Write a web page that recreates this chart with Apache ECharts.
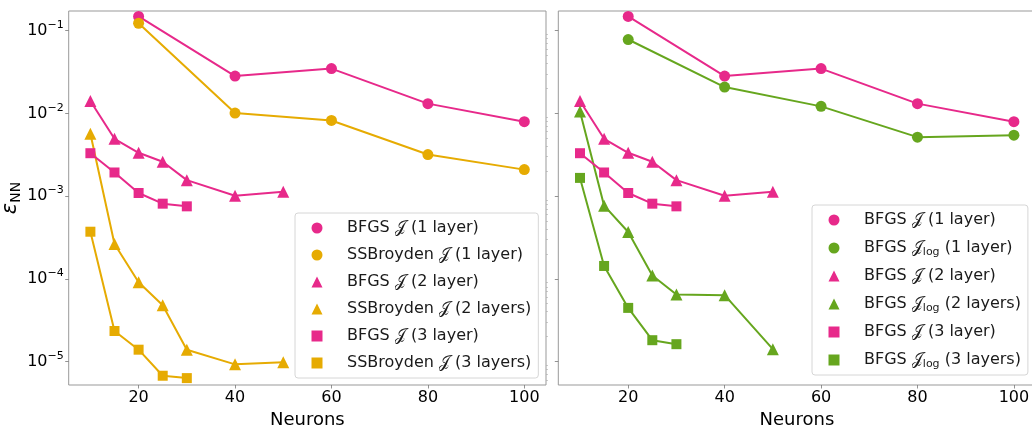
<!DOCTYPE html>
<html>
<head>
<meta charset="utf-8">
<script src="https://cdn.jsdelivr.net/npm/echarts@6/dist/echarts.min.js"></script>
<style>
  html, body { margin: 0; padding: 0; background: #fff; }
  #chart { width: 1032px; height: 425px; }
</style>
</head>
<body>
<div id="chart"></div>
<script>
// neurons per layer (x values)
const neurons1 = [20, 40, 60, 80, 100];
const neurons2 = [10, 15, 20, 25, 30, 40, 50];
const neurons3 = [10, 15, 20, 25, 30];

// errors
const bfgs1 = [0.1486, 0.0283, 0.0348, 0.01312, 0.00793];
const ssb1 = [0.123, 0.0101, 0.00822, 0.00318, 0.00209];
const bfgs2 = [0.0141, 0.00493, 0.00334, 0.0026, 0.00156, 0.00101, 0.00113];
const ssb2 = [0.00568, 0.000264, 9.1e-5, 4.8e-5, 1.39e-5, 9.24e-6, 9.78e-6];
const bfgs3 = [0.0033, 0.00193, 0.00109, 0.00081, 0.000752];
const ssb3 = [0.000371, 2.34e-5, 1.39e-5, 6.73e-6, 6.3e-6];
const bfgsLog1 = [0.0782, 0.0208, 0.01216, 0.00516, 0.00546];
const bfgsLog2 = [0.01057, 0.000767, 0.000368, 0.0001097, 6.45e-5, 6.34e-5, 1.41e-5];
const bfgsLog3 = [0.00166, 0.000143, 4.45e-5, 1.81e-5, 1.62e-5];

// tick labels
const xTicks = [20, 40, 60, 80, 100];
const yTicks = [1e-5, 1e-4, 1e-3, 1e-2, 1e-1];
const yTickExp = ['−5', '−4', '−3', '−2', '−1'];

const PINK = '#e7298a', ORANGE = '#e6ab02', GREEN = '#66a61e';
const FONT = 'DejaVu Sans';
const Y_MIN = 5.2e-6, Y_MAX = 0.173;

// minor ticks 2..9 x 10^k
const yMinor = [];
for (let k = -6; k <= -1; k++) {
  for (let m = 2; m <= 9; m++) {
    const v = m * Math.pow(10, k);
    if (v > Y_MIN && v < Y_MAX) yMinor.push(v);
  }
}

const chart = echarts.init(document.getElementById('chart'), null, { renderer: 'canvas' });

function pairs(xs, ys) { return xs.map((x, i) => [x, ys[i]]); }

function mkSeries(name, xs, ys, color, symbol, size, panel) {
  return {
    name: name,
    type: 'line',
    xAxisIndex: panel,
    yAxisIndex: panel * 2,
    data: pairs(xs, ys),
    symbol: symbol,
    symbolSize: size,
    showAllSymbol: true,
    lineStyle: { color: color, width: 2 },
    itemStyle: { color: color, borderWidth: 0 },
    emphasis: { disabled: true }
  };
}

function xAxisCfg(grid) {
  return {
    type: 'value', gridIndex: grid, min: 5.5, max: 104.5,
    name: 'Neurons', nameLocation: 'middle', nameGap: 16,
    nameTextStyle: { fontFamily: FONT, fontSize: 18, color: '#000' },
    axisLine: { show: false },
    splitLine: { show: false },
    axisTick: { show: true, customValues: xTicks, length: 3.5, lineStyle: { color: '#777', width: 0.8 } },
    axisLabel: { customValues: xTicks, margin: 5, fontFamily: FONT, fontSize: 16, color: '#000' }
  };
}

function yAxisMajor(grid, withLabels) {
  return {
    type: 'log', gridIndex: grid, min: Y_MIN, max: Y_MAX, logBase: 10,
    axisLine: { show: false },
    splitLine: { show: false },
    axisTick: { show: true, customValues: yTicks, length: 3.5, lineStyle: { color: '#777', width: 0.8 } },
    axisLabel: {
      show: withLabels,
      customValues: yTicks,
      margin: 5,
      formatter: function (v) {
        const i = yTicks.findIndex(t => Math.abs(Math.log10(t) - Math.log10(v)) < 1e-6);
        return i < 0 ? '' : '{b|10}{s|' + yTickExp[i] + '}';
      },
      rich: {
        b: { fontFamily: FONT, fontSize: 16, color: '#000', lineHeight: 22 },
        s: { fontFamily: FONT, fontSize: 11, color: '#000', lineHeight: 12, verticalAlign: 'top' }
      }
    },
    name: withLabels ? '{e|ε}{s|NN}' : '',
    nameLocation: 'middle', nameRotate: 90, nameGap: 43,
    nameTextStyle: {
      rich: {
        e: { fontFamily: FONT, fontStyle: 'italic', fontSize: 21, color: '#000', lineHeight: 26 },
        s: { fontFamily: FONT, fontSize: 14, color: '#000', lineHeight: 16, verticalAlign: 'bottom' }
      }
    }
  };
}

function yAxisMinor(grid) {
  return {
    type: 'log', gridIndex: grid, min: Y_MIN, max: Y_MAX, logBase: 10,
    axisLine: { show: false },
    splitLine: { show: false },
    axisLabel: { show: false },
    axisTick: { show: true, customValues: yMinor, length: 2, lineStyle: { color: '#aaa', width: 0.6 } }
  };
}

function legendCfg(names, left, top, itemGap) {
  return {
    data: names.map(n => ({ name: n, icon: n.indexOf('1 layer') >= 0 ? 'circle' : (n.indexOf('2 layer') >= 0 ? 'triangle' : 'rect') })),
    orient: 'vertical',
    left: left, top: top,
    itemWidth: 11, itemHeight: 11, itemGap: itemGap,
    padding: [5, 7, 5, 16.5],
    backgroundColor: 'rgba(255,255,255,0.85)',
    borderColor: '#d6d6d6', borderWidth: 1, borderRadius: 3,
    selectedMode: false,
    formatter: function (name) {
      return name.replace('𝒥log', '𝒥{sub|log}');
    },
    textStyle: {
      fontFamily: FONT, fontSize: 16, color: '#1a1a1a', lineHeight: 20,
      padding: [0, 0, 0, 19.5],
      rich: {
        sub: { fontFamily: FONT, fontSize: 11, color: '#1a1a1a', lineHeight: 14, verticalAlign: 'bottom' }
      }
    }
  };
}

const leftNames = ['BFGS 𝒥 (1 layer)', 'SSBroyden 𝒥 (1 layer)', 'BFGS 𝒥 (2 layer)',
  'SSBroyden 𝒥 (2 layers)', 'BFGS 𝒥 (3 layer)', 'SSBroyden 𝒥 (3 layers)'];
const rightNames = ['BFGS 𝒥 (1 layer)', 'BFGS 𝒥log (1 layer)', 'BFGS 𝒥 (2 layer)',
  'BFGS 𝒥log (2 layers)', 'BFGS 𝒥 (3 layer)', 'BFGS 𝒥log (3 layers)'];

const gridBase = { top: 11, width: 477.3, height: 374, show: true, borderColor: '#999', borderWidth: 1,
  backgroundColor: 'transparent', outerBoundsMode: 'none', containLabel: false };

const option = {
  animation: false,
  backgroundColor: '#fff',
  grid: [
    Object.assign({ left: 68.7 }, gridBase),
    Object.assign({ left: 558.3 }, gridBase)
  ],
  xAxis: [xAxisCfg(0), xAxisCfg(1)],
  yAxis: [yAxisMajor(0, true), yAxisMinor(0), yAxisMajor(1, false), yAxisMinor(1)],
  legend: [
    legendCfg(leftNames, 295, 213, 7),
    legendCfg(rightNames, 812, 205, 8)
  ],
  series: [
    mkSeries('BFGS 𝒥 (1 layer)', neurons1, bfgs1, PINK, 'circle', 11, 0),
    mkSeries('SSBroyden 𝒥 (1 layer)', neurons1, ssb1, ORANGE, 'circle', 11, 0),
    mkSeries('BFGS 𝒥 (2 layer)', neurons2, bfgs2, PINK, 'triangle', 12, 0),
    mkSeries('SSBroyden 𝒥 (2 layers)', neurons2, ssb2, ORANGE, 'triangle', 12, 0),
    mkSeries('BFGS 𝒥 (3 layer)', neurons3, bfgs3, PINK, 'rect', 10, 0),
    mkSeries('SSBroyden 𝒥 (3 layers)', neurons3, ssb3, ORANGE, 'rect', 10, 0),
    mkSeries('BFGS 𝒥 (1 layer)', neurons1, bfgs1, PINK, 'circle', 11, 1),
    mkSeries('BFGS 𝒥log (1 layer)', neurons1, bfgsLog1, GREEN, 'circle', 11, 1),
    mkSeries('BFGS 𝒥 (2 layer)', neurons2, bfgs2, PINK, 'triangle', 12, 1),
    mkSeries('BFGS 𝒥log (2 layers)', neurons2, bfgsLog2, GREEN, 'triangle', 12, 1),
    mkSeries('BFGS 𝒥 (3 layer)', neurons3, bfgs3, PINK, 'rect', 10, 1),
    mkSeries('BFGS 𝒥log (3 layers)', neurons3, bfgsLog3, GREEN, 'rect', 10, 1)
  ]
};

chart.setOption(option);
</script>
</body>
</html>
